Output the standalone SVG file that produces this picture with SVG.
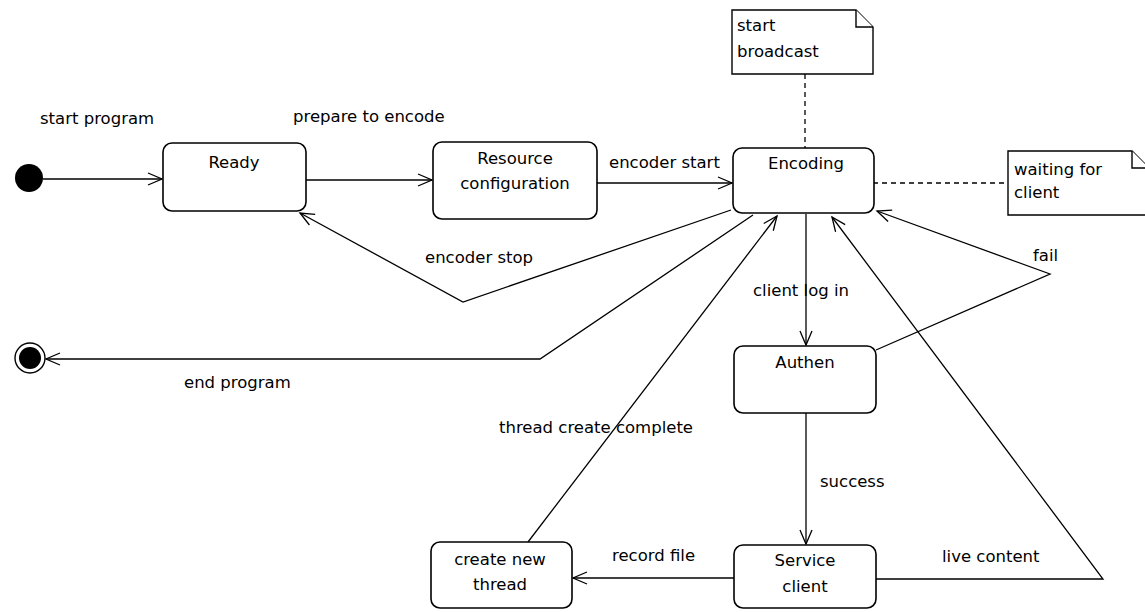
<svg xmlns="http://www.w3.org/2000/svg" width="1145" height="612" viewBox="0 0 1145 612">
<defs>
<style>
.box{fill:#fff;stroke:#000;stroke-width:1.6}
.note{fill:#fff;stroke:#000;stroke-width:1.4}
.t{font-family:"DejaVu Sans","Liberation Sans",sans-serif;font-size:16.5px;fill:#000}
.c{text-anchor:middle}
.edge{fill:none;stroke:#000;stroke-width:1.3}
.dash{fill:none;stroke:#000;stroke-width:1.3;stroke-dasharray:5 4}
</style>
<marker id="arr" markerUnits="userSpaceOnUse" markerWidth="30" markerHeight="30" refX="0" refY="0" orient="auto" overflow="visible">
<path d="M-14,-6 L0,0 L-14,6" fill="none" stroke="#000" stroke-width="1.3"/>
</marker>
</defs>
<rect width="1145" height="612" fill="#fff"/>

<g id="connectors">
<path class="edge" d="M43,179 H162" marker-end="url(#arr)"/>
<path class="edge" d="M306,180 H432" marker-end="url(#arr)"/>
<path class="edge" d="M597,183 H732" marker-end="url(#arr)"/>
<path class="edge" d="M731,210 L463,302 L300,213" marker-end="url(#arr)"/>
<path class="edge" d="M753,215 L540,359 H46" marker-end="url(#arr)"/>
<path class="edge" d="M806,214 V345" marker-end="url(#arr)"/>
<path class="edge" d="M806,413 V544" marker-end="url(#arr)"/>
<path class="edge" d="M876,350 L1050,274 L877,211" marker-end="url(#arr)"/>
<path class="edge" d="M876,579 H1103 L832,217" marker-end="url(#arr)"/>
<path class="edge" d="M734,578 H573" marker-end="url(#arr)"/>
<path class="edge" d="M528,542 L777,216" marker-end="url(#arr)"/>
<path class="dash" d="M805,74 V148"/>
<path class="dash" d="M873,183 H1008"/>
</g>

<g id="labels">
<text class="t" x="40" y="124">start program</text>
<text class="t" x="293" y="122">prepare to encode</text>
<text class="t" x="609" y="168">encoder start</text>
<text class="t" x="425" y="263">encoder stop</text>
<text class="t" x="184" y="388">end program</text>
<text class="t" x="753" y="296">client log in</text>
<text class="t" x="1033" y="261">fail</text>
<text class="t" x="820" y="487">success</text>
<text class="t" x="499" y="433">thread create complete</text>
<text class="t" x="612" y="561">record file</text>
<text class="t" x="942" y="562">live content</text>
</g>

<g id="initial">
<circle cx="29" cy="178" r="14" fill="#000"/>
</g>

<g id="final">
<circle cx="30" cy="358" r="15" fill="#fff" stroke="#000" stroke-width="1.4"/>
<circle cx="30" cy="358" r="11" fill="#000"/>
</g>

<g id="ready">
<rect class="box" x="163" y="143" width="143" height="68" rx="9"/>
<text class="t c" x="234" y="168">Ready</text>
</g>

<g id="resource">
<rect class="box" x="433" y="142" width="164" height="77" rx="9"/>
<text class="t c" x="515" y="164">Resource</text>
<text class="t c" x="515" y="189">configuration</text>
</g>

<g id="encoding">
<rect class="box" x="733" y="148" width="141" height="65" rx="9"/>
<text class="t c" x="806" y="169">Encoding</text>
</g>

<g id="authen">
<rect class="box" x="734" y="346" width="142" height="67" rx="9"/>
<text class="t c" x="805" y="368">Authen</text>
</g>

<g id="service">
<rect class="box" x="734" y="545" width="142" height="63" rx="9"/>
<text class="t c" x="805" y="566">Service</text>
<text class="t c" x="805" y="592">client</text>
</g>

<g id="newthread">
<rect class="box" x="431" y="542" width="141" height="66" rx="9"/>
<text class="t c" x="500" y="565">create new</text>
<text class="t c" x="500" y="590">thread</text>
</g>

<g id="note-broadcast">
<path class="note" d="M732,10 H856 L873,27 V74 H732 Z"/>
<path class="note" d="M856,10 V27 H873" fill="none"/>
<text class="t" x="737" y="31">start</text>
<text class="t" x="737" y="57">broadcast</text>
</g>

<g id="note-waiting">
<path class="note" d="M1008,151 H1132 L1149,168 V215 H1008 Z"/>
<path class="note" d="M1132,151 V168 H1149" fill="none"/>
<text class="t" x="1014" y="175">waiting for</text>
<text class="t" x="1014" y="198">client</text>
</g>
</svg>
